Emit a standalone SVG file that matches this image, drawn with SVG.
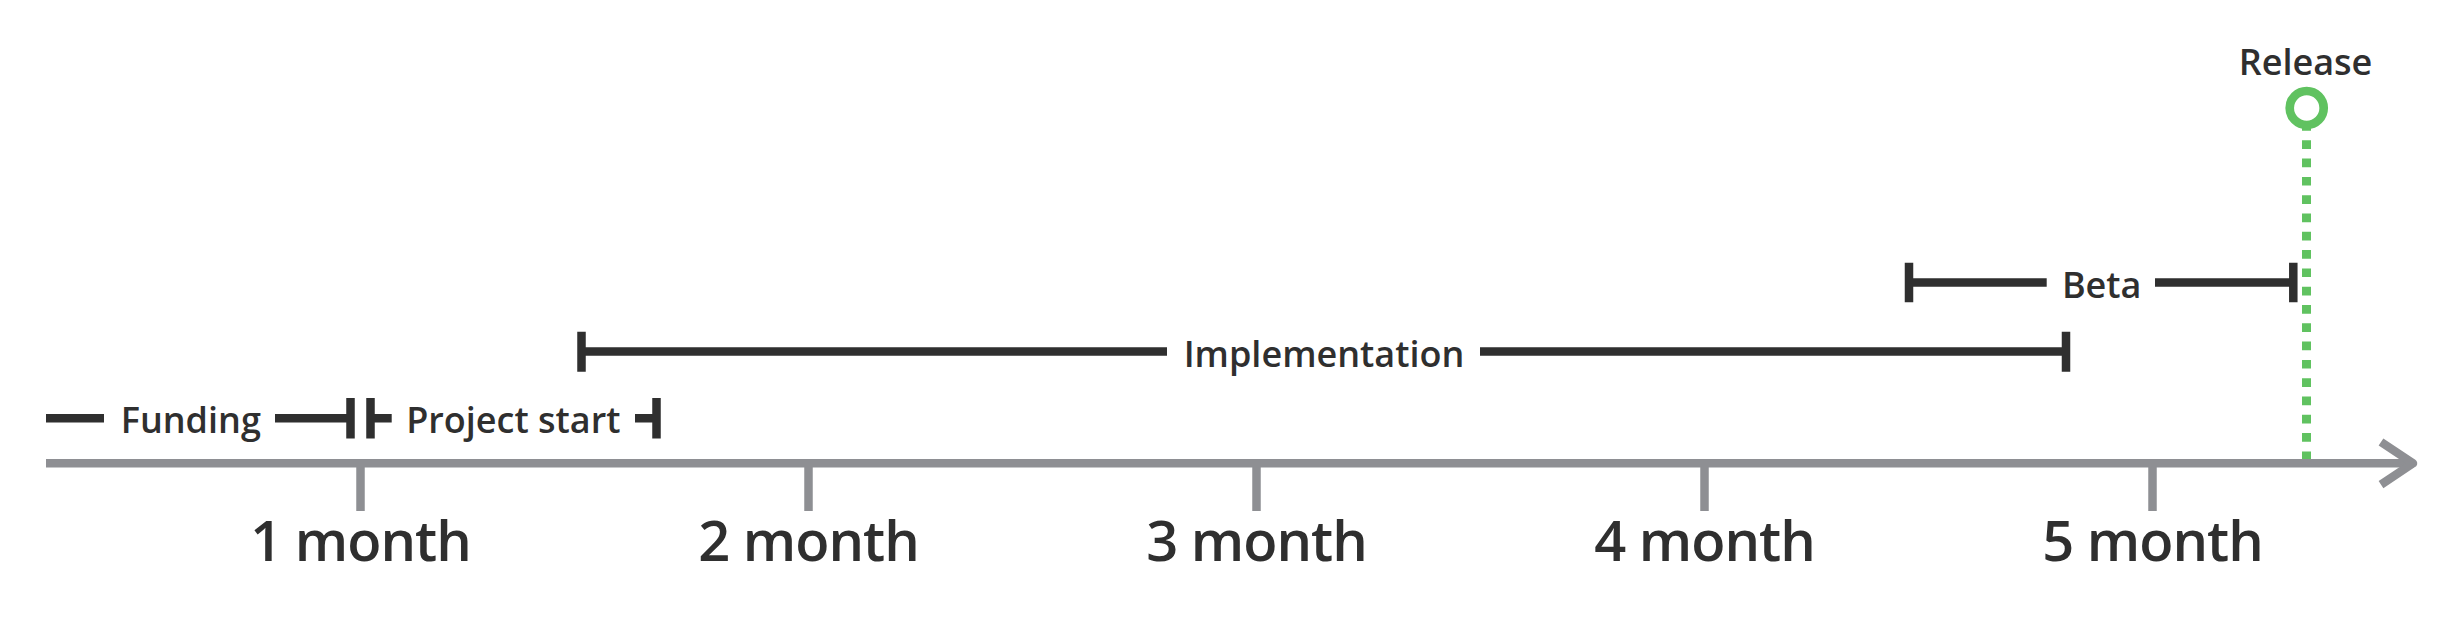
<svg xmlns="http://www.w3.org/2000/svg" width="2464" height="624" viewBox="0 0 2464 624">
<style>
.bar{stroke:#2f2f2f;stroke-width:8.5;fill:none}
.axis{stroke:#8e8f93;stroke-width:8.5;fill:none}
.tick{stroke:#8e8f93;stroke-width:8.5}
.lbl{font-family:"Open Sans","Noto Sans",sans-serif;font-size:36px;font-weight:600;fill:#2f2f2f;text-anchor:middle}
.mon{font-family:"Open Sans","Noto Sans",sans-serif;font-size:56px;font-weight:600;letter-spacing:-1px;fill:#2f2f2f;text-anchor:middle}
</style>
<rect width="2464" height="624" fill="#ffffff"/>
<g id="connectors">
<path class="axis" d="M46 463.3H2414"/>
<path class="axis" d="M2381 442L2413 463.3L2381 484.6" stroke-linejoin="round"/>
<path d="M2306.5 122V459" stroke="#60c260" stroke-width="9" stroke-dasharray="8.7 9.6" fill="none"/>
</g>
<g id="axis-ticks">
<line class="tick" x1="360.5" y1="463" x2="360.5" y2="511"/>
<line class="tick" x1="808.5" y1="463" x2="808.5" y2="511"/>
<line class="tick" x1="1256.5" y1="463" x2="1256.5" y2="511"/>
<line class="tick" x1="1704.5" y1="463" x2="1704.5" y2="511"/>
<line class="tick" x1="2152.5" y1="463" x2="2152.5" y2="511"/>
<text class="mon" x="360.5" y="561">1 month</text>
<text class="mon" x="808.5" y="561">2 month</text>
<text class="mon" x="1256.5" y="561">3 month</text>
<text class="mon" x="1704.5" y="561">4 month</text>
<text class="mon" x="2152.5" y="561">5 month</text>
</g>
<g id="funding">
<path class="bar" d="M46 418.3H104M275 418.3H350.5M350.5 398V438.5"/>
<text class="lbl" x="190.8" y="433.3">Funding</text>
</g>
<g id="project-start">
<path class="bar" d="M370.5 398V438.5M370.5 418.3H391.7M635 418.3H656.5M656.5 398V438.5"/>
<text class="lbl" x="513.3" y="433.3">Project start</text>
</g>
<g id="implementation">
<path class="bar" d="M581.5 331.7V371.7M581.5 351.5H1167M1480 351.5H2066M2066 331.7V371.7"/>
<text class="lbl" x="1324" y="366.7">Implementation</text>
</g>
<g id="beta">
<path class="bar" d="M1909 262.7V302.3M1909 282.5H2046.7M2155 282.5H2293.3M2293.3 262.7V302.3"/>
<text class="lbl" x="2101.7" y="298.3">Beta</text>
</g>
<g id="release">
<text class="lbl" x="2305.5" y="75">Release</text>
<circle cx="2306.7" cy="108" r="17" fill="#ffffff" stroke="#60c260" stroke-width="8.7"/>
</g>
</svg>
